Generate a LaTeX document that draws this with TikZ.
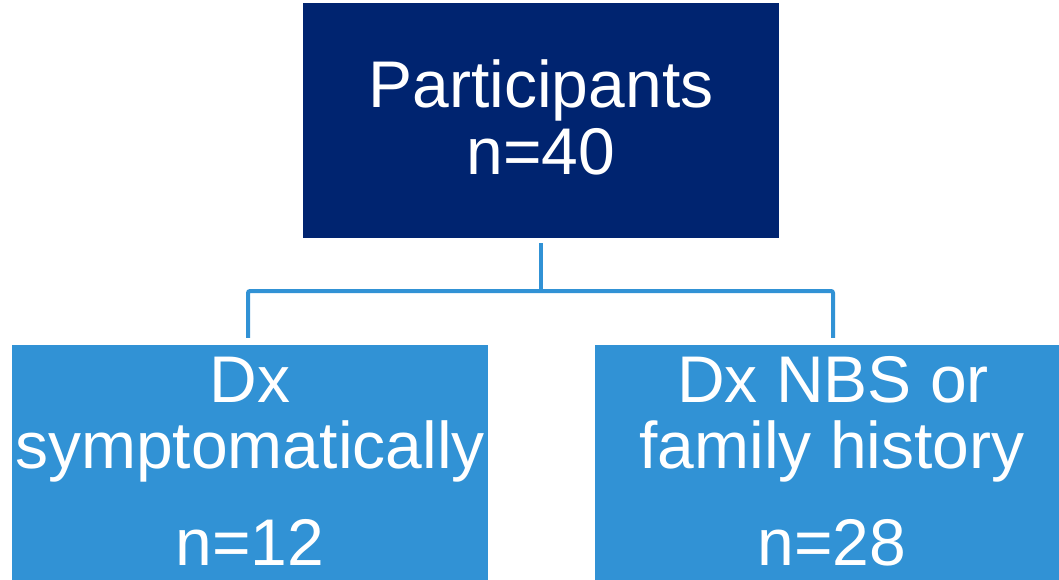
\documentclass[tikz,border=0pt]{standalone}
\usepackage{fontspec}
\setmainfont{Liberation Sans}
\definecolor{navy}{HTML}{002470}
\definecolor{skyb}{HTML}{3192D5}
\begin{document}
\begin{tikzpicture}[x=1pt,y=-1pt,
  box/.style={rectangle,inner sep=0pt,minimum height=235pt},
  txt/.style={text=white,anchor=base,inner sep=0pt,font=\fontsize{66}{67}\selectfont},
  conn/.style={draw=skyb,line width=4pt,rounded corners=2pt}]
\useasboundingbox (0,0) rectangle (1059,580);
\node[box,fill=navy,minimum width=476pt] (top) at (541,120.5) {};
\node[box,fill=skyb,minimum width=476pt] (left) at (250,462.5) {};
\node[box,fill=skyb,minimum width=464pt] (right) at (827,462.5) {};
\node[txt] (t1) at (541,108) {Participants};
\node[txt] (t2) at (541,175) {n=40};
\node[txt] (l1) at (250,402) {Dx};
\node[txt] (l2) at (250,468) {symptomatically};
\node[txt] (l3) at (250,565) {n=12};
\node[txt] (r1) at (833,402) {Dx NBS or};
\node[txt] (r2) at (832,468) {family history};
\node[txt] (r3) at (832,565) {n=28};
\coordinate (j) at (541,291);
\draw[conn] ([yshift=-5pt]top.south) -- (j);
\draw[conn] ([xshift=-2pt,yshift=7pt]left.north) |- (j) -| ([xshift=6pt,yshift=7pt]right.north);
\end{tikzpicture}
\end{document}
